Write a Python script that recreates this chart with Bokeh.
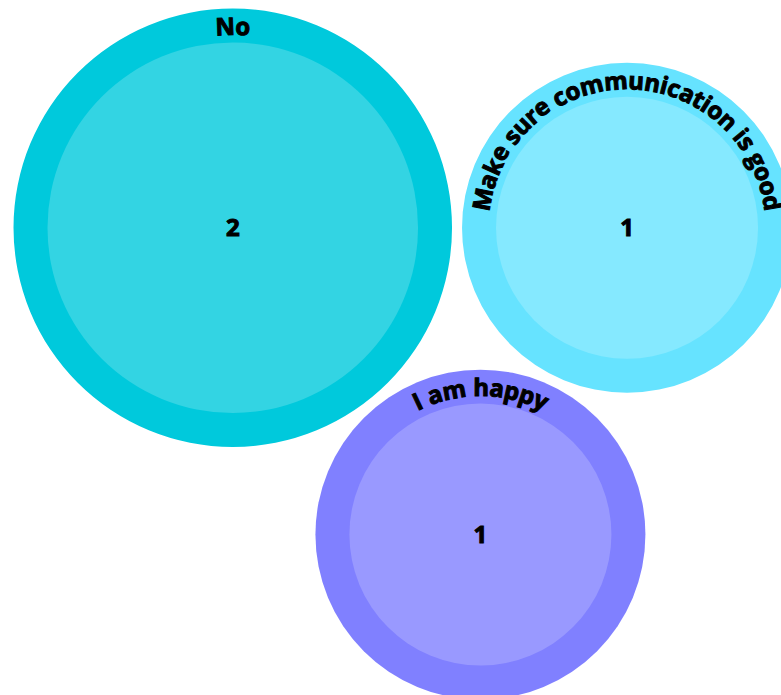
import math
from bokeh.plotting import figure
from bokeh.models import Range1d, ColumnDataSource
from bokeh.core.properties import value
from bokeh.embed import file_html
from bokeh.resources import INLINE

# ---- data ----
labels = ["No", "Make sure communication is good", "I am happy"]
counts = [2, 1, 1]
outer_colors = ["#00C9DC", "#66E3FF", "#8080FF"]
inner_colors = ["#33D4E3", "#85E9FF", "#9999FF"]

# ---- layout / style ----
W, H = 781, 695
MARGIN = 8.0
K = 131.0        # px per sqrt(count) for inner circle
RING = 34.0      # width of the outer ring
PAD = 10.0       # gap between bubbles
FONT_PX = 24
FONT = "Open Sans"
TEXT_OFFSET = 17.0  # anchor radius = inner radius + offset

# approximate advance widths (em) for a bold humanist sans
ADV = {
    " ": 0.26, "M": 0.905, "N": 0.807, "I": 0.352,
    "a": 0.59, "c": 0.514, "d": 0.617, "e": 0.585, "g": 0.551,
    "h": 0.642, "i": 0.293, "k": 0.607, "m": 0.964, "n": 0.642,
    "o": 0.607, "p": 0.617, "r": 0.433, "s": 0.487, "t": 0.418,
    "u": 0.642, "y": 0.549,
}

# ---- circle packing (three siblings, d3-style) ----
inner_r = [K * math.sqrt(c) for c in counts]
outer_r = [r + RING for r in inner_r]
pr = [r + PAD / 2 for r in outer_r]
px = [0.0, pr[0] + pr[1], 0.0]
py = [0.0, 0.0, 0.0]  # screen-down coordinates
dA = pr[0] + pr[2]
dB = pr[1] + pr[2]
ab = px[1]
x3 = (dA ** 2 - dB ** 2 + ab ** 2) / (2 * ab)
px[2] = x3
py[2] = math.sqrt(dA ** 2 - x3 ** 2)

offx = MARGIN - min(x - r for x, r in zip(px, pr))
offy = MARGIN - min(y - r for y, r in zip(py, outer_r))
cx = [x + offx for x in px]
cy = [H - (y + offy) for y in py]  # data y up

p = figure(width=W, height=H, x_range=Range1d(0, W), y_range=Range1d(0, H),
           output_backend="svg", toolbar_location=None, min_border=0,
           background_fill_color="white", border_fill_color="white")
p.axis.visible = False
p.grid.visible = False
p.outline_line_color = None

src = ColumnDataSource(dict(x=cx, y=cy, ro=outer_r, ri=inner_r,
                            co=outer_colors, ci=inner_colors,
                            v=[str(c) for c in counts]))
p.circle(x="x", y="y", radius="ro", fill_color="co", line_color=None, source=src)
p.circle(x="x", y="y", radius="ri", fill_color="ci", line_color=None, source=src)

p.text(x="x", y="y", text="v", source=src, text_align="center",
       text_baseline="middle", text_font=value(FONT), text_font_style="bold",
       text_font_size=value(f"{FONT_PX}px"), text_color="#000000",
       text_outline_color="#000000")

# ---- curved labels along top of each bubble ----
chx, chy, cha, cht = [], [], [], []
for lab, x0, y0, ri in zip(labels, cx, cy, inner_r):
    rb = ri + TEXT_OFFSET
    path_r = ri + 7.0
    widths = [ADV.get(ch, 0.55) * FONT_PX for ch in lab]
    total = sum(widths)
    theta0 = math.pi / 2 + total / (2 * path_r)
    cum = 0.0
    for ch, w in zip(lab, widths):
        mid = cum + w / 2
        th = theta0 - mid / path_r
        cum += w
        if ch == " ":
            continue
        chx.append(x0 + rb * math.cos(th))
        chy.append(y0 + rb * math.sin(th))
        cha.append(th - math.pi / 2)
        cht.append(ch)

csrc = ColumnDataSource(dict(x=chx, y=chy, a=cha, t=cht))
p.text(x="x", y="y", text="t", angle="a", source=csrc, text_align="center",
       text_baseline="alphabetic", text_font=value(FONT), text_font_style="bold",
       text_font_size=value(f"{FONT_PX}px"), text_color="#000000",
       text_outline_color="#000000")

open("out.html", "w").write(file_html(p, INLINE))
